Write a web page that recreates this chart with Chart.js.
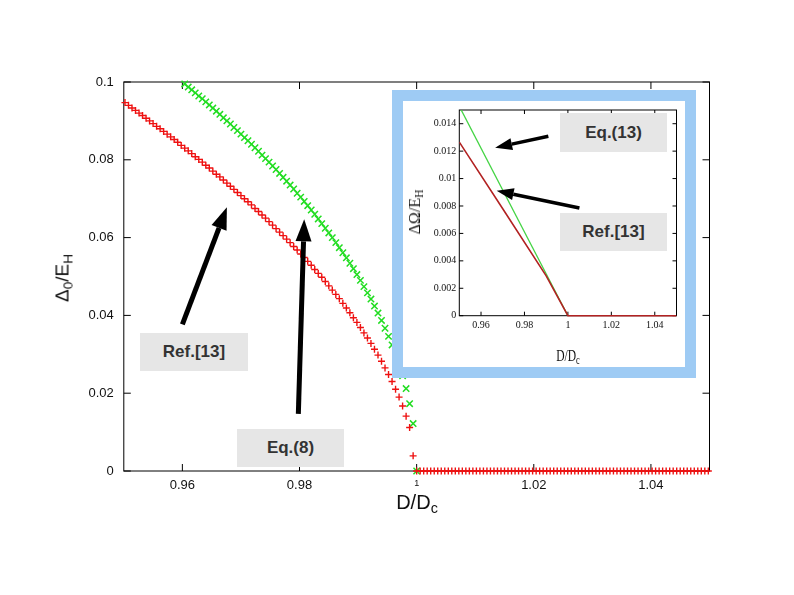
<!DOCTYPE html>
<html lang="en">
<head>
  <meta charset="UTF-8" />
  <title>Gap vs D/Dc</title>
  <script src="https://cdn.jsdelivr.net/npm/chart.js"></script>
  <style>
    body {
      margin: 0;
      background: #fff;
      font-family: 'Liberation Sans', Arial, sans-serif;
    }
    #wrap {
      position: relative;
      width: 794px;
      height: 595px;
      overflow: hidden;
    }
    #mainChart { position: absolute; left: 0; top: 0; }
    .tag {
      position: absolute;
      background: #e6e6e6;
      color: #333;
      font-weight: bold;
      font-size: 17px;
      display: flex;
      align-items: center;
      justify-content: center;
    }
    .axis-title {
      position: absolute;
      white-space: nowrap;
      color: #111;
      line-height: 1;
    }
    .axis-title sub { font-size: 72%; vertical-align: -0.3em; line-height: 0; }
    #yTitle { left: 62px; top: 278px; font-size: 19px; transform: translate(-50%, -50%) rotate(-90deg); }
    #xTitle { left: 417px; top: 502px; font-size: 20px; transform: translate(-50%, -50%); }
    #inset {
      position: absolute;
      left: 392px;
      top: 90px;
      width: 282px;
      height: 266px;
      border: 11px solid #9ecbf4;
      background: #fff;
    }
    #insetChart { position: absolute; left: 0; top: 0; }
    #inset .axis-title { font-family: 'Liberation Serif', 'DejaVu Serif', serif; }
    #insetY { left: 12px; top: 111px; font-size: 16px; transform: translate(-50%, -50%) rotate(-90deg); }
    #insetX { left: 165px; top: 254px; font-size: 17px; transform: translate(-50%, -50%) scaleX(0.68); }
  </style>
</head>
<body>

<div id="wrap">
  <canvas id="mainChart" width="794" height="595"></canvas>
  <div class="axis-title" id="yTitle">Δ<sub>0</sub>/E<sub>H</sub></div>
  <div class="axis-title" id="xTitle">D/D<sub>c</sub></div>
  <div class="tag" style="left:140px;top:333px;width:108px;height:38px">Ref.[13]</div>
  <div class="tag" style="left:237px;top:429px;width:107px;height:38px">Eq.(8)</div>

  <div id="inset">
    <canvas id="insetChart" width="282" height="266"></canvas>
    <div class="axis-title" id="insetY">ΔΩ/E<sub>H</sub></div>
    <div class="axis-title" id="insetX">D/D<sub>c</sub></div>
    <div class="tag" style="left:157px;top:12px;width:107px;height:39px">Eq.(13)</div>
    <div class="tag" style="left:157px;top:112px;width:107px;height:38px">Ref.[13]</div>
  </div>
</div>

<script>
  // D/Dc sample grid shared by both point series
  const dOverDc = [
    0.9502, 0.9508, 0.9514, 0.9520, 0.9526, 0.9532, 0.9538, 0.9544, 0.9550, 0.9556,
    0.9562, 0.9568, 0.9574, 0.9580, 0.9586, 0.9592, 0.9598, 0.9604, 0.9610, 0.9616,
    0.9622, 0.9628, 0.9634, 0.9640, 0.9646, 0.9652, 0.9658, 0.9664, 0.9670, 0.9676,
    0.9682, 0.9688, 0.9694, 0.9700, 0.9706, 0.9712, 0.9718, 0.9724, 0.9730, 0.9736,
    0.9742, 0.9748, 0.9754, 0.9760, 0.9766, 0.9772, 0.9778, 0.9784, 0.9790, 0.9796,
    0.9802, 0.9808, 0.9814, 0.9820, 0.9826, 0.9832, 0.9838, 0.9844, 0.9850, 0.9856,
    0.9862, 0.9868, 0.9874, 0.9880, 0.9886, 0.9892, 0.9898, 0.9904, 0.9910, 0.9916,
    0.9922, 0.9928, 0.9934, 0.9940, 0.9946, 0.9952, 0.9958, 0.9964, 0.9970, 0.9976,
    0.9982, 0.9988, 0.9994, 1.0000, 1.0006, 1.0012, 1.0018, 1.0024, 1.0030, 1.0036,
    1.0042, 1.0048, 1.0054, 1.0060, 1.0066, 1.0072, 1.0078, 1.0084, 1.0090, 1.0096,
    1.0102, 1.0108, 1.0114, 1.0120, 1.0126, 1.0132, 1.0138, 1.0144, 1.0150, 1.0156,
    1.0162, 1.0168, 1.0174, 1.0180, 1.0186, 1.0192, 1.0198, 1.0204, 1.0210, 1.0216,
    1.0222, 1.0228, 1.0234, 1.0240, 1.0246, 1.0252, 1.0258, 1.0264, 1.0270, 1.0276,
    1.0282, 1.0288, 1.0294, 1.0300, 1.0306, 1.0312, 1.0318, 1.0324, 1.0330, 1.0336,
    1.0342, 1.0348, 1.0354, 1.0360, 1.0366, 1.0372, 1.0378, 1.0384, 1.0390, 1.0396,
    1.0402, 1.0408, 1.0414, 1.0420, 1.0426, 1.0432, 1.0438, 1.0444, 1.0450, 1.0456,
    1.0462, 1.0468, 1.0474, 1.0480, 1.0486, 1.0492, 1.0498
  ];

  // Ref.[13] (red +)
  const ref13Gap = [
    0.0947, 0.0940, 0.0933, 0.0927, 0.0920, 0.0914, 0.0907, 0.0900, 0.0893, 0.0886,
    0.0880, 0.0873, 0.0866, 0.0859, 0.0852, 0.0845, 0.0837, 0.0830, 0.0823, 0.0816,
    0.0808, 0.0801, 0.0794, 0.0786, 0.0779, 0.0771, 0.0763, 0.0756, 0.0748, 0.0740,
    0.0732, 0.0724, 0.0716, 0.0708, 0.0700, 0.0692, 0.0684, 0.0675, 0.0667, 0.0658,
    0.0650, 0.0641, 0.0632, 0.0623, 0.0614, 0.0605, 0.0596, 0.0587, 0.0577, 0.0568,
    0.0558, 0.0549, 0.0539, 0.0529, 0.0518, 0.0508, 0.0498, 0.0487, 0.0476, 0.0465,
    0.0454, 0.0443, 0.0431, 0.0419, 0.0407, 0.0394, 0.0382, 0.0369, 0.0355, 0.0342,
    0.0328, 0.0313, 0.0298, 0.0282, 0.0265, 0.0248, 0.0230, 0.0210, 0.0190, 0.0167,
    0.0141, 0.0112, 0.0039, 0, 0, 0, 0, 0, 0, 0,
    0, 0, 0, 0, 0, 0, 0, 0, 0, 0,
    0, 0, 0, 0, 0, 0, 0, 0, 0, 0,
    0, 0, 0, 0, 0, 0, 0, 0, 0, 0,
    0, 0, 0, 0, 0, 0, 0, 0, 0, 0,
    0, 0, 0, 0, 0, 0, 0, 0, 0, 0,
    0, 0, 0, 0, 0, 0, 0, 0, 0, 0,
    0, 0, 0, 0, 0, 0, 0, 0, 0, 0,
    0, 0, 0, 0, 0, 0, 0
  ];

  // Eq.(8) (green x), starts at D/Dc ~ 0.96
  const eq8Gap = [
    null, null, null, null, null, null, null, null, null, null,
    null, null, null, null, null, null, null, 0.0995, 0.0987, 0.0980,
    0.0972, 0.0964, 0.0957, 0.0949, 0.0941, 0.0933, 0.0925, 0.0917, 0.0908, 0.0900,
    0.0892, 0.0883, 0.0875, 0.0866, 0.0857, 0.0849, 0.0840, 0.0831, 0.0822, 0.0812,
    0.0803, 0.0794, 0.0784, 0.0775, 0.0765, 0.0755, 0.0745, 0.0735, 0.0725, 0.0714,
    0.0704, 0.0693, 0.0682, 0.0671, 0.0660, 0.0648, 0.0636, 0.0624, 0.0612, 0.0600,
    0.0587, 0.0574, 0.0561, 0.0548, 0.0534, 0.0520, 0.0505, 0.0490, 0.0474, 0.0458,
    0.0442, 0.0424, 0.0406, 0.0387, 0.0367, 0.0346, 0.0324, 0.0300, 0.0274, 0.0245,
    0.0212, 0.0173, 0.0122, 0
  ];

  const xTicks = [0.96, 0.98, 1, 1.02, 1.04];
  const xTickLabels = ['0.96', '0.98', '1', '1.02', '1.04'];
  const yTicks = [0, 0.02, 0.04, 0.06, 0.08, 0.1];
  const yTickLabels = ['0', '0.02', '0.04', '0.06', '0.08', '0.1'];

  // inset: Delta Omega / E_H
  const insetD = [0.95, 0.97, 0.99, 1.0, 1.05];
  const insetRef13 = [0.01266, 0.0078, 0.0029, 0, 0];
  const insetEqD = [0.95, 1.0];
  const insetEq13 = [0.01527, 0];
  const insetYTicks = [0, 0.002, 0.004, 0.006, 0.008, 0.01, 0.012, 0.014];
  const insetYTickLabels = ['0', '0.002', '0.004', '0.006', '0.008', '0.01', '0.012', '0.014'];

  Chart.defaults.font.family = "'Liberation Sans', Arial, sans-serif";
  Chart.defaults.color = '#111';

  function toPoints(xs, ys) {
    return xs.map((x, i) => ({ x, y: ys[i] })).filter(p => p.y !== null && p.y !== undefined);
  }

  function drawArrow(ctx, x1, y1, x2, y2, lw, hl, hw) {
    const ang = Math.atan2(y2 - y1, x2 - x1);
    const bx = x2 - hl * Math.cos(ang), by = y2 - hl * Math.sin(ang);
    ctx.lineWidth = lw;
    ctx.beginPath(); ctx.moveTo(x1, y1); ctx.lineTo(bx, by); ctx.stroke();
    ctx.beginPath();
    ctx.moveTo(x2, y2);
    ctx.lineTo(bx + hw / 2 * Math.sin(ang), by - hw / 2 * Math.cos(ang));
    ctx.lineTo(bx - hw / 2 * Math.sin(ang), by + hw / 2 * Math.cos(ang));
    ctx.closePath(); ctx.fill();
  }

  // gnuplot-like box with inward ticks on all four sides
  const frameTicks = {
    id: 'frameTicks',
    beforeDatasetsDraw(chart, args, opts) {
      const { ctx, chartArea: a, scales: { x, y } } = chart;
      const L = opts.len;
      ctx.save();
      ctx.strokeStyle = '#000';
      ctx.lineWidth = 1;
      ctx.strokeRect(a.left, a.top, a.right - a.left, a.bottom - a.top);
      ctx.beginPath();
      x.ticks.forEach(t => {
        const px = x.getPixelForValue(t.value);
        ctx.moveTo(px, a.bottom); ctx.lineTo(px, a.bottom - L);
        ctx.moveTo(px, a.top); ctx.lineTo(px, a.top + L);
      });
      y.ticks.forEach(t => {
        const py = y.getPixelForValue(t.value);
        ctx.moveTo(a.left, py); ctx.lineTo(a.left + L, py);
        ctx.moveTo(a.right, py); ctx.lineTo(a.right - L, py);
      });
      ctx.stroke();
      ctx.restore();
    },
    afterDatasetsDraw(chart, args, opts) {
      const { ctx, scales: { x, y } } = chart;
      ctx.save();
      ctx.strokeStyle = '#000';
      ctx.fillStyle = '#000';
      (opts.arrows || []).forEach(ar => {
        drawArrow(ctx,
          x.getPixelForValue(ar.from[0]), y.getPixelForValue(ar.from[1]),
          x.getPixelForValue(ar.to[0]), y.getPixelForValue(ar.to[1]),
          opts.arrowWidth, opts.headLen, opts.headWidth);
      });
      ctx.restore();
    }
  };

  new Chart(document.getElementById('mainChart'), {
    type: 'scatter',
    data: {
      datasets: [
        {
          label: 'Ref.[13]',
          data: toPoints(dOverDc, ref13Gap),
          pointStyle: 'cross',
          pointRadius: 3.5,
          pointBorderWidth: 1.4,
          borderColor: '#ee1111',
          backgroundColor: '#ee1111',
          clip: 8
        },
        {
          label: 'Eq.(8)',
          data: toPoints(dOverDc, eq8Gap),
          pointStyle: 'crossRot',
          pointRadius: 4.5,
          pointBorderWidth: 1.5,
          borderColor: '#22dd22',
          backgroundColor: '#22dd22',
          clip: 8
        }
      ]
    },
    options: {
      responsive: false,
      animation: false,
      events: [],
      layout: { padding: { top: 82, right: 84.5, bottom: 0, left: 0 } },
      plugins: {
        legend: { display: false },
        tooltip: { enabled: false },
        frameTicks: {
          len: 7,
          arrowWidth: 5,
          headLen: 22,
          headWidth: 16,
          arrows: [
            { from: [0.9600, 0.0377], to: [0.9676, 0.0678] },
            { from: [0.9798, 0.0147], to: [0.9808, 0.0647] }
          ]
        }
      },
      scales: {
        x: {
          type: 'linear',
          min: 0.95,
          max: 1.05,
          grid: { display: false, drawTicks: false },
          border: { display: false },
          afterBuildTicks: s => { s.ticks = xTicks.map(v => ({ value: v })); },
          afterFit: s => { s.height = 124; },
          ticks: {
            padding: 7,
            maxRotation: 0,
            color: '#111',
            font: c => ({ size: c.tick && c.tick.value === 1 ? 9 : 13 }),
            callback: (v, i) => xTickLabels[i]
          }
        },
        y: {
          type: 'linear',
          min: 0,
          max: 0.1,
          grid: { display: false, drawTicks: false },
          border: { display: false },
          afterBuildTicks: s => { s.ticks = yTicks.map(v => ({ value: v })); },
          afterFit: s => { s.width = 123.8; },
          ticks: {
            padding: 10,
            color: '#111',
            font: { size: 13 },
            callback: (v, i) => yTickLabels[i]
          }
        }
      }
    },
    plugins: [frameTicks]
  });

  new Chart(document.getElementById('insetChart'), {
    type: 'line',
    data: {
      datasets: [
        {
          label: 'Ref.[13]',
          data: toPoints(insetD, insetRef13),
          borderColor: '#b22222',
          borderWidth: 1.6,
          pointRadius: 0,
          fill: false,
          clip: { left: 0, top: 0, right: 0, bottom: 3 }
        },
        {
          label: 'Eq.(13)',
          data: toPoints(insetEqD, insetEq13),
          borderColor: '#44d444',
          borderWidth: 1.3,
          pointRadius: 0,
          fill: false
        }
      ]
    },
    options: {
      responsive: false,
      animation: false,
      events: [],
      layout: { padding: { top: 6.5, right: 8.5, bottom: 0, left: 0 } },
      plugins: {
        legend: { display: false },
        tooltip: { enabled: false },
        frameTicks: {
          len: 4,
          arrowWidth: 3.5,
          headLen: 17,
          headWidth: 12,
          arrows: [
            { from: [0.9910, 0.01309], to: [0.9665, 0.01225] },
            { from: [1.0053, 0.00786], to: [0.9672, 0.00911] }
          ]
        }
      },
      scales: {
        x: {
          type: 'linear',
          min: 0.95,
          max: 1.05,
          grid: { display: false, drawTicks: false },
          border: { display: false },
          afterBuildTicks: s => { s.ticks = xTicks.map(v => ({ value: v })); },
          afterFit: s => { s.height = 51.3; },
          ticks: {
            padding: 4,
            maxRotation: 0,
            color: '#111',
            font: { family: "'Liberation Serif', serif", size: 10 },
            callback: (v, i) => xTickLabels[i]
          }
        },
        y: {
          type: 'linear',
          min: 0,
          max: 0.015,
          grid: { display: false, drawTicks: false },
          border: { display: false },
          afterBuildTicks: s => { s.ticks = insetYTicks.map(v => ({ value: v })); },
          afterFit: s => { s.width = 56.3; },
          ticks: {
            padding: 3,
            color: '#111',
            font: { family: "'Liberation Serif', serif", size: 10 },
            callback: (v, i) => insetYTickLabels[i]
          }
        }
      }
    },
    plugins: [frameTicks]
  });
</script>

</body>
</html>
